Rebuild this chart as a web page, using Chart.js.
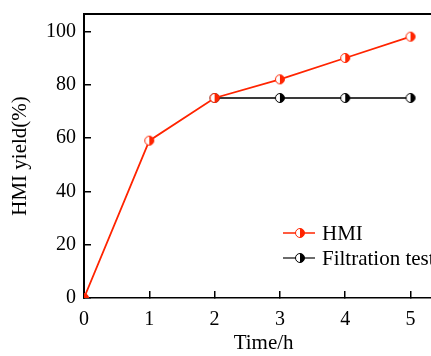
<!DOCTYPE html>
<html>
<head>
<meta charset="utf-8">
<script src="https://cdn.jsdelivr.net/npm/chart.js@4"></script>
<style>
  html, body { margin: 0; padding: 0; background: #fff; overflow: hidden; }
  #wrap { width: 431px; height: 356px; overflow: hidden; }
</style>
</head>
<body>
<div id="wrap"><canvas id="yieldChart" width="450" height="356"></canvas></div>
<script>
// data
const times = [0, 1, 2, 3, 4, 5];
const hmiYield = [0, 59, 75, 82, 90, 98];
const filtrationYield = [null, null, 75, 75, 75, 75];
const yTicks = [0, 20, 40, 60, 80, 100];
const xTicks = [0, 1, 2, 3, 4, 5];

const RED = "#ff2400";
const DARK = "#3a3a3a";
const FONT = "'Liberation Serif', 'Times New Roman', serif";

// half filled circle marker (left white, right coloured)
function halfMarker(color) {
    const c = document.createElement("canvas");
    c.width = 12; c.height = 12;
    const g = c.getContext("2d");
    g.beginPath(); g.arc(6, 6, 4.5, 0, 2 * Math.PI);
    g.fillStyle = "#fff"; g.fill();
    g.beginPath(); g.arc(6, 6, 4.5, -Math.PI / 2, Math.PI / 2);
    g.fillStyle = color; g.fill();
    g.beginPath(); g.arc(6, 6, 4.5, 0, 2 * Math.PI);
    g.strokeStyle = color; g.lineWidth = 1; g.stroke();
    return c;
}

const hmiMarker = halfMarker(RED);
const blackMarker = halfMarker("#000");

function toPoints(ys) {
    return times.map((t, i) => ({ x: t, y: ys[i] }));
}

// top frame line + legend inside the plot
const framePlugin = {
    id: "frame",
    afterDraw(chart) {
        const ctx = chart.ctx;
        const a = chart.chartArea;
        ctx.save();
        ctx.strokeStyle = "#000";
        ctx.lineWidth = 2;
        ctx.beginPath();
        ctx.moveTo(a.left - 1, a.top);
        ctx.lineTo(a.right + 2, a.top);
        ctx.stroke();

        // legend
        const entries = [
            { ds: chart.data.datasets[0], marker: hmiMarker, y: 233 },
            { ds: chart.data.datasets[1], marker: blackMarker, y: 258 }
        ];
        entries.forEach(e => {
            ctx.strokeStyle = e.ds.borderColor;
            ctx.lineWidth = 1.5;
            ctx.beginPath();
            ctx.moveTo(283, e.y);
            ctx.lineTo(315, e.y);
            ctx.stroke();
            ctx.drawImage(e.marker, 300 - 6, e.y - 6);
            ctx.fillStyle = "#000";
            ctx.font = "21px " + FONT;
            ctx.textBaseline = "middle";
            ctx.fillText(e.ds.label, 322, e.y + 1);
        });
        ctx.restore();
    }
};

const ctx = document.getElementById("yieldChart").getContext("2d");
new Chart(ctx, {
    type: "line",
    data: {
        datasets: [{
            label: "HMI",
            data: toPoints(hmiYield),
            borderColor: RED,
            borderWidth: 1.8,
            pointStyle: hmiMarker,
            pointRadius: 5,
            fill: false
        }, {
            label: "Filtration test",
            data: toPoints(filtrationYield),
            borderColor: DARK,
            borderWidth: 1.8,
            pointStyle: blackMarker,
            pointRadius: 5,
            fill: false
        }]
    },
    options: {
        responsive: false,
        animation: false,
        devicePixelRatio: 1,
        layout: { padding: { top: 14, right: 0, left: 0, bottom: 0 } },
        plugins: {
            legend: { display: false },
            tooltip: { enabled: false }
        },
        scales: {
            x: {
                type: "linear",
                min: 0,
                max: 5.5,
                afterBuildTicks: s => { s.ticks = xTicks.map(v => ({ value: v })); },
                afterFit: s => { s.height = 58; s.paddingLeft = 0; s.paddingRight = 0; },
                grid: { drawOnChartArea: false, tickLength: -7, color: "#000", lineWidth: 1.5 },
                border: { color: "#000", width: 1.5 },
                ticks: { color: "#000", font: { family: FONT, size: 20 }, padding: 17, maxRotation: 0 },
                title: { display: true, text: "Time/h", color: "#000", font: { family: FONT, size: 21 }, padding: { top: 0, bottom: 0 } }
            },
            y: {
                min: 0,
                max: 106.5,
                afterBuildTicks: s => { s.ticks = yTicks.map(v => ({ value: v })); },
                afterFit: s => { s.width = 84; s.paddingTop = 0; s.paddingBottom = 0; },
                grid: { drawOnChartArea: false, tickLength: -7, color: "#000", lineWidth: 1.5 },
                border: { color: "#000", width: 2 },
                ticks: { color: "#000", font: { family: FONT, size: 20 }, padding: 15 },
                title: { display: true, text: "HMI yield(%)", color: "#000", font: { family: FONT, size: 21 }, padding: { top: 8, bottom: 0 } }
            }
        }
    },
    plugins: [framePlugin]
});
</script>
</body>
</html>
